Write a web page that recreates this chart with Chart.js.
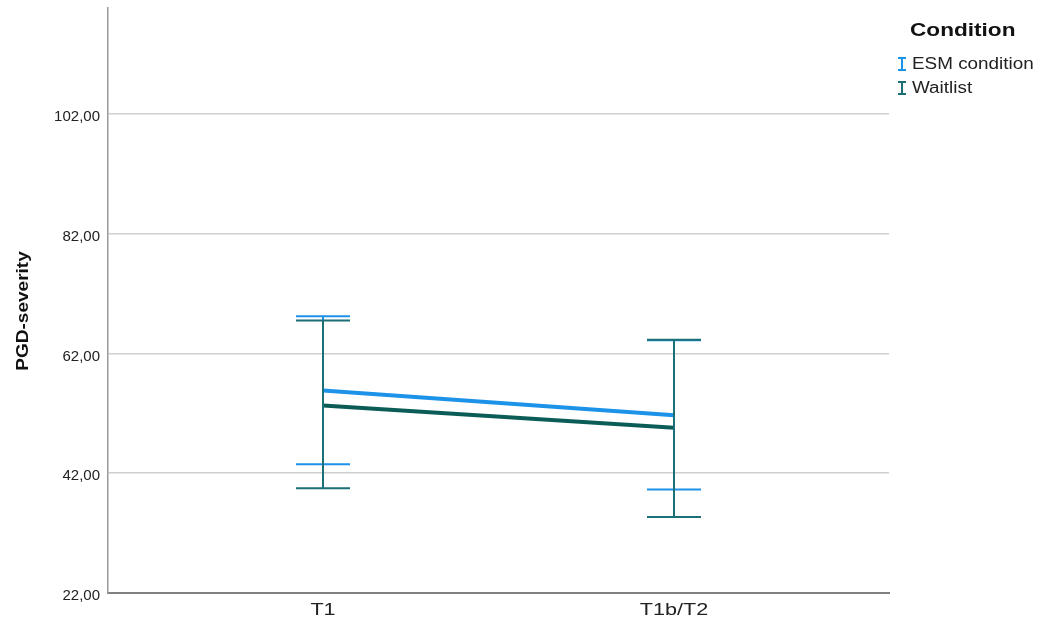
<!DOCTYPE html>
<html>
<head>
<meta charset="utf-8">
<script src="https://cdn.jsdelivr.net/npm/chart.js@4.4.1/dist/chart.umd.min.js"></script>
<style>
  html, body { margin: 0; padding: 0; background: #fff; }
  #wrap { width: 1038px; height: 631px; position: relative; }
</style>
</head>
<body>
<div id="wrap"><canvas id="c" width="1038" height="631"></canvas></div>
<script>
// Time points and group means of PGD severity with 95% CI bounds
const timePoints = ['T1', 'T1b/T2'];
const yTicks = [22, 42, 62, 82, 102];

const esmMean  = [55.8, 51.7];
const esmLow   = [43.5, 39.3];
const esmHigh  = [68.2, 64.2];

const waitMean = [53.3, 49.6];
const waitLow  = [39.5, 34.7];
const waitHigh = [67.5, 64.3];

const groupNames = ['ESM condition', 'Waitlist'];
const lineColors = ['#1c92e8', '#0b5c56'];
const barColors  = ['#1c92e8', '#1b6f76'];

const lowBounds  = [esmLow, waitLow];
const highBounds = [esmHigh, waitHigh];

const FONT = '"Liberation Sans", Arial, sans-serif';

// Text drawn with a horizontal stretch factor
function wideText(ctx, text, x, y, font, sx, align) {
  ctx.save();
  ctx.font = font;
  ctx.textBaseline = 'middle';
  const w = ctx.measureText(text).width * sx;
  let left = x;
  if (align === 'center') left = x - w / 2;
  ctx.translate(left, y);
  ctx.scale(sx, 1);
  ctx.textAlign = 'left';
  ctx.fillText(text, 0, 0);
  ctx.restore();
}

// Error bars drawn on the chart's own scales
const errorBars = {
  id: 'errorBars',
  afterDatasetsDraw(chart) {
    const { ctx, scales: { x, y } } = chart;
    ctx.save();
    ctx.lineCap = 'butt';
    [0, 1].forEach(g => {
      ctx.strokeStyle = barColors[g];
      ctx.lineWidth = 2;
      timePoints.forEach((_, i) => {
        const px = Math.round(x.getPixelForValue(i));
        const yLo = y.getPixelForValue(lowBounds[g][i]);
        const yHi = y.getPixelForValue(highBounds[g][i]);
        ctx.beginPath();
        ctx.moveTo(px, yLo); ctx.lineTo(px, yHi);
        ctx.moveTo(px - 27, yLo); ctx.lineTo(px + 27, yLo);
        ctx.moveTo(px - 27, yHi); ctx.lineTo(px + 27, yHi);
        ctx.stroke();
      });
    });
    ctx.restore();
  }
};

// Axis captions: category labels under the x axis and the y axis title
const axisText = {
  id: 'axisText',
  afterDraw(chart) {
    const { ctx, scales: { x } } = chart;
    ctx.save();
    ctx.fillStyle = '#222';
    timePoints.forEach((t, i) => {
      wideText(ctx, t, x.getPixelForValue(i), 611, '16px ' + FONT, 1.35, 'center');
    });
    ctx.fillStyle = '#111';
    ctx.translate(23, 311);
    ctx.rotate(-Math.PI / 2);
    wideText(ctx, 'PGD-severity', 0, 0, 'bold 17px ' + FONT, 1.12, 'center');
    ctx.restore();
  }
};

// Legend block on the right
const sideLegend = {
  id: 'sideLegend',
  afterDraw(chart) {
    const { ctx } = chart;
    ctx.save();
    ctx.fillStyle = '#111';
    wideText(ctx, 'Condition', 910, 31, 'bold 19px ' + FONT, 1.19, 'left');
    groupNames.forEach((name, i) => {
      const cy = 64 + i * 24;
      ctx.strokeStyle = barColors[i];
      ctx.lineWidth = 2;
      ctx.beginPath();
      ctx.moveTo(902, cy - 6); ctx.lineTo(902, cy + 6);
      ctx.moveTo(898, cy - 6); ctx.lineTo(906, cy - 6);
      ctx.moveTo(898, cy + 6); ctx.lineTo(906, cy + 6);
      ctx.stroke();
      ctx.fillStyle = '#222';
      wideText(ctx, name, 912, cy + 1, '16px ' + FONT, 1.18, 'left');
    });
    ctx.restore();
  }
};

new Chart(document.getElementById('c'), {
  type: 'line',
  data: {
    datasets: [
      {
        label: groupNames[0],
        data: esmMean.map((v, i) => ({ x: i, y: v })),
        borderColor: lineColors[0],
        borderWidth: 4,
        pointRadius: 0,
        fill: false
      },
      {
        label: groupNames[1],
        data: waitMean.map((v, i) => ({ x: i, y: v })),
        borderColor: lineColors[1],
        borderWidth: 4,
        pointRadius: 0,
        fill: false
      }
    ]
  },
  options: {
    responsive: false,
    animation: false,
    layout: { padding: { left: 0, right: 149, top: 8, bottom: 0 } },
    plugins: {
      legend: { display: false },
      tooltip: { enabled: false }
    },
    scales: {
      x: {
        type: 'linear',
        min: -0.6125,
        max: 1.6125,
        afterBuildTicks(axis) { axis.ticks = timePoints.map((_, i) => ({ value: i })); },
        afterFit(axis) { axis.height = 38; axis.paddingLeft = 0; axis.paddingRight = 0; },
        ticks: { display: false },
        grid: { display: false, drawTicks: false },
        border: { display: true, color: '#808080', width: 2 }
      },
      y: {
        min: 22,
        max: 119.7,
        afterBuildTicks(axis) { axis.ticks = yTicks.map(v => ({ value: v })); },
        afterFit(axis) { axis.width = 108; axis.paddingTop = 0; axis.paddingBottom = 0; },
        ticks: {
          callback: v => v.toFixed(2).replace('.', ','),
          color: '#222',
          font: { family: FONT, size: 15 },
          padding: 8,
          labelOffset: 3
        },
        grid: {
          drawTicks: false,
          color: ctx => ctx.tick && ctx.tick.value === 22 ? 'rgba(0,0,0,0)' : '#d0d0d0',
          lineWidth: 1.5
        },
        border: { display: true, color: '#9a9a9a', width: 1.5 }
      }
    }
  },
  plugins: [errorBars, axisText, sideLegend]
});
</script>
</body>
</html>
